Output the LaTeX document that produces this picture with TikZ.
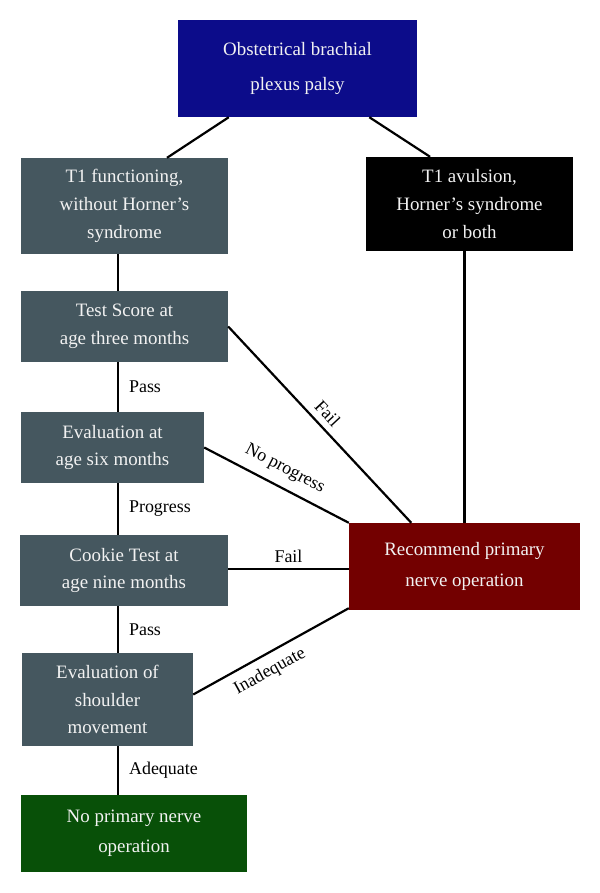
\documentclass[tikz,border=0pt]{standalone}
\usepackage{fontspec}
\setmainfont{Liberation Serif}
\usepackage{xcolor}
\usetikzlibrary{calc}

\definecolor{palsyblue}{RGB}{12,12,138}
\definecolor{stepgrey}{RGB}{69,87,95}
\definecolor{operred}{RGB}{115,0,0}
\definecolor{nogreen}{RGB}{8,80,8}

\tikzset{
	box/.style={fill=stepgrey, text=white!95!black, align=center, inner sep=0pt,
		font=\fontsize{19}{28}\selectfont},
	link/.style={line width=2.2bp},
	lab/.style={font=\fontsize{18}{20}\selectfont, text=black, inner sep=3pt},
}

\begin{document}
\begin{tikzpicture}[x=1bp, y=-1bp]
			\useasboundingbox (0,0) rectangle (600,893);
			\coordinate (stem) at (118,0);

			\node[box, fill=palsyblue, minimum width=239bp, minimum height=97bp] (palsy) at (297.5,68.5)
				{Obstetrical brachial\\[8pt] plexus palsy};
			\node[box, minimum width=207bp, minimum height=96bp] (func) at (124.5,206)
				{T1 functioning,\\ without Horner's\\ syndrome};
			\node[box, fill=black, minimum width=207bp, minimum height=94bp] (avul) at (469.5,204)
				{T1 avulsion,\\ Horner's syndrome\\ or both};
			\node[box, minimum width=207bp, minimum height=71bp] (test) at (124.5,326.5)
				{Test Score at\\ age three months};
			\node[box, minimum width=183bp, minimum height=71bp] (six) at (112.5,447.5)
				{Evaluation at\\ age six months};
			\node[box, minimum width=208bp, minimum height=71bp] (cookie) at (124,570.5)
				{Cookie Test at\\ age nine months};
			\node[box, minimum width=171bp, minimum height=93bp] (shoulder) at (107.5,699.5)
				{Evaluation of\\ shoulder\\ movement};
			\node[box, fill=nogreen, minimum width=226bp, minimum height=77bp] (noop) at (134,833.5)
				{No primary nerve\\[2pt] operation};
			\node[box, fill=operred, minimum width=231bp, minimum height=87bp] (recom) at (464.5,566.5)
				{Recommend primary\\[4pt] nerve operation};

			\draw[link] ($(palsy.south west)!0.213!(palsy.south east)$) -- ($(func.north west)!0.705!(func.north east)$);
			\draw[link] ($(palsy.south west)!0.8!(palsy.south east)$) -- ($(avul.north west)!0.31!(avul.north east)$);
			\draw[link] (func.south -| stem) -- (test.north -| stem);
			\draw[link] (test.south -| stem) -- node[lab, right, xshift=7bp] {Pass} (six.north -| stem);
			\draw[link] (six.south -| stem) -- node[lab, right, xshift=7bp] {Progress} (cookie.north -| stem);
			\draw[link] (cookie.south -| stem) -- node[lab, right, xshift=7bp] {Pass} (shoulder.north -| stem);
			\draw[link] (shoulder.south -| stem) -- node[lab, right, xshift=7bp] {Adequate} (noop.north -| stem);
			\draw[link] (recom.north |- avul.south) -- (recom.north);
			\draw[link] (test.east) -- node[lab, above=3bp, sloped, pos=0.49] {Fail} ($(recom.north west)!0.27!(recom.north east)$);
			\draw[link] (six.east) -- node[lab, above=6bp, sloped, pos=0.5] {No progress} (recom.north west);
			\draw[link] ($(cookie.east)+(0,-1.5)$) -- node[lab, above, yshift=2bp] {Fail} ($(cookie.east -| recom.west)+(0,-1.5)$);
			\draw[link] ($(shoulder.east)+(0,-5)$) -- node[lab, below=5bp, sloped, pos=0.44] {Inadequate} ($(recom.south west)+(0,-2)$);
		\end{tikzpicture}
\end{document}
